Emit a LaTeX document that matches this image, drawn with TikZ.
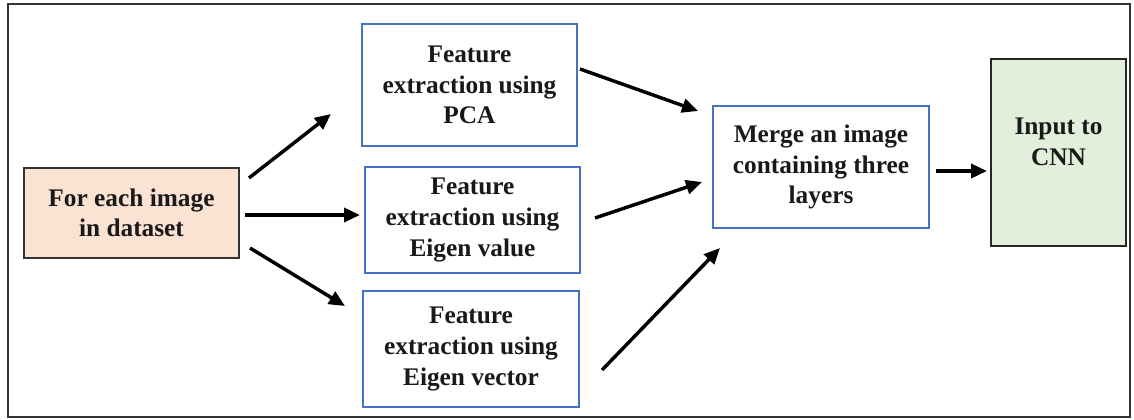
\documentclass[tikz,border=0pt]{standalone}
\usepackage{fontspec}
\setmainfont{Liberation Serif}
\usetikzlibrary{arrows.meta}
\definecolor{peach}{HTML}{FBE3D4}
\definecolor{lgreen}{HTML}{E2EFDA}
\definecolor{bblue}{HTML}{4472C4}
\definecolor{dgray}{HTML}{333333}
\begin{document}
\begin{tikzpicture}[x=0.75pt,y=-0.75pt,
  txt/.style={font=\fontsize{19}{23}\selectfont\bfseries, align=center, text=black!90, inner sep=0pt},
  bluebox/.style={draw=bblue, line width=1.4pt, fill=white, minimum width=161.25pt, txt},
  arr/.style={line width=2.6pt, -{Triangle[length=12pt,width=10.5pt]}}]
\useasboundingbox (0,0) rectangle (1134,420);
\draw[dgray, line width=1.8pt] (8,4) rectangle (1130,417);
% nodes
\node[txt, draw=dgray, line width=0.8pt, fill=peach, minimum width=161.25pt, minimum height=67.5pt] (src) at (131.5,213) {For each image\\in dataset};
\node[bluebox, minimum height=91.5pt] (pca) at (469.5,85) {Feature\\extraction using\\PCA};
\node[bluebox, minimum height=79.5pt] (eval) at (472.5,220) {Feature\\extraction using\\Eigen value};
\node[bluebox, minimum width=162pt, minimum height=87pt] (evec) at (471,349) {Feature\\extraction using\\Eigen vector};
\node[bluebox, minimum width=162pt, minimum height=91.5pt] (merge) at (821,167) {Merge an image\\containing three\\layers};
\node[draw=black!85, line width=1.9pt, fill=lgreen, minimum width=101.25pt, minimum height=140.25pt] (cnn) at (1058.5,152.5) {};
\node[txt] (cnntxt) at (1058.5,142) {Input to\\CNN};
% connector ends
\coordinate (s1) at (249,178); \coordinate (e1) at (331,114);
\coordinate (s2) at (245,215); \coordinate (e2) at (360,215);
\coordinate (s3) at (250,248); \coordinate (e3) at (345,306);
\coordinate (s4) at (580,69);  \coordinate (e4) at (698,111);
\coordinate (s5) at (595,218); \coordinate (e5) at (702,182);
\coordinate (s6) at (602,370); \coordinate (e6) at (720,248);
\coordinate (s7) at (936,171); \coordinate (e7) at (987,171);
\draw[arr] (s1) -- (e1);
\draw[arr] (s2) -- (e2);
\draw[arr] (s3) -- (e3);
\draw[arr] (s4) -- (e4);
\draw[arr] (s5) -- (e5);
\draw[arr] (s6) -- (e6);
\draw[arr] (s7) -- (e7);
\end{tikzpicture}
\end{document}
